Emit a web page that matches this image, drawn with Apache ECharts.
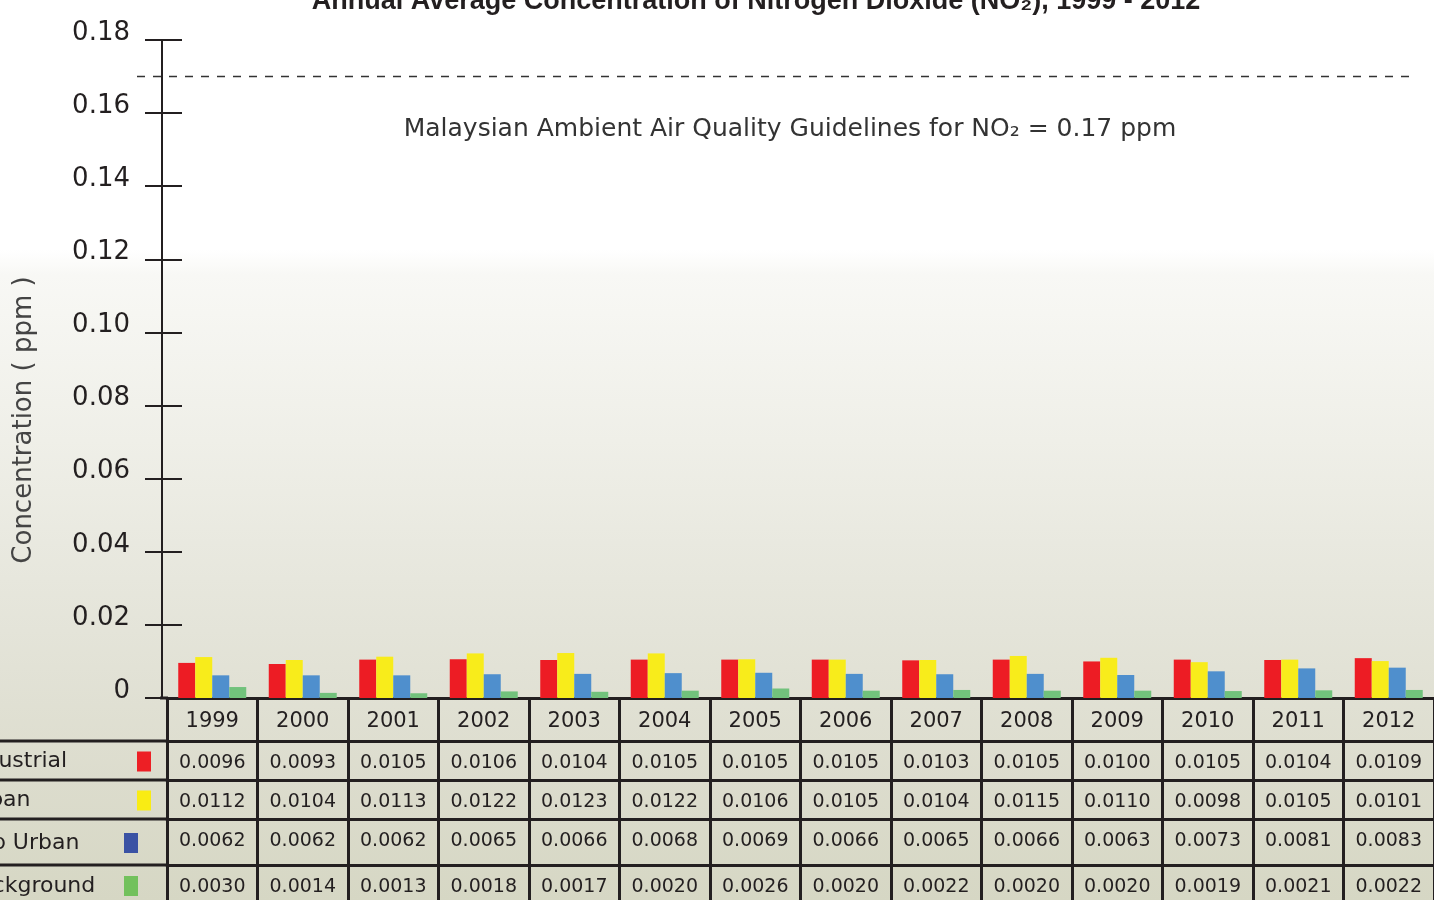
<!DOCTYPE html>
<html>
<head>
<meta charset="utf-8">
<title>NO2 1999 - 2012</title>
<script src="https://cdn.jsdelivr.net/npm/echarts@6/dist/echarts.min.js"></script>
<style>
  html, body { margin: 0; padding: 0; overflow: hidden; }
  body {
    background: linear-gradient(to bottom, #ffffff 0px, #ffffff 250px, #f8f8f5 275px,
      #efefe8 440px, #e4e4d9 630px, #dcdccd 780px, #d6d7c4 900px);
  }
  #chart { width: 1434px; height: 900px; }
</style>
</head>
<body>
<div id="chart"></div>
<script>
// data
const years = ['1999', '2000', '2001', '2002', '2003', '2004', '2005', '2006', '2007', '2008', '2009', '2010', '2011', '2012'];
const industrial = [0.0096, 0.0093, 0.0105, 0.0106, 0.0104, 0.0105, 0.0105, 0.0105, 0.0103, 0.0105, 0.0100, 0.0105, 0.0104, 0.0109];
const urban = [0.0112, 0.0104, 0.0113, 0.0122, 0.0123, 0.0122, 0.0106, 0.0105, 0.0104, 0.0115, 0.0110, 0.0098, 0.0105, 0.0101];
const subUrban = [0.0062, 0.0062, 0.0062, 0.0065, 0.0066, 0.0068, 0.0069, 0.0066, 0.0065, 0.0066, 0.0063, 0.0073, 0.0081, 0.0083];
const background = [0.0030, 0.0014, 0.0013, 0.0018, 0.0017, 0.0020, 0.0026, 0.0020, 0.0022, 0.0020, 0.0020, 0.0019, 0.0021, 0.0022];
const seriesNames = ['Industrial', 'Urban', 'Sub Urban', 'Background'];
const yMin = 0, yMax = 0.18, yStep = 0.02;
const guideline = 0.17;

const seriesData = [industrial, urban, subUrban, background];
const barColors = ['#ed1c24', '#f8ec1b', '#4f8fcd', '#72c27c'];
const keyColors = ['#ed1f25', '#f9ec14', '#3a52a4', '#72c15c'];
const keyX = [137, 137, 124, 124];

const font = 'DejaVu Sans';
const ink = '#231f20';
const gridBottomY = 698;
// table rows: offset of each row's top line below the x axis, row height
const rowOffsets = [0, 43, 82, 121, 167];
const rowHeights = [43, 39, 39, 46, 40];

const chart = echarts.init(document.getElementById('chart'));

function tableAxis(i) {
  return {
    type: 'category',
    data: years,
    position: 'bottom',
    offset: rowOffsets[i],
    axisLine: { show: true, onZero: false, lineStyle: { color: ink, width: 3 } },
    axisTick: { show: true, alignWithLabel: false, interval: 0, length: rowHeights[i], lineStyle: { color: ink, width: 3 } },
    axisLabel: {
      interval: 0,
      margin: 13,
      fontFamily: font,
      fontSize: i === 0 ? 21 : 19,
      color: ink,
      formatter: (v, idx) => i === 0 ? v : seriesData[i - 1][idx].toFixed(4)
    },
    splitLine: { show: false }
  };
}

const yBase = {
  type: 'value',
  min: yMin,
  max: yMax,
  interval: yStep,
  position: 'left',
  offset: 5,
  splitLine: { show: false }
};

chart.setOption({
  animation: false,
  backgroundColor: 'transparent',
  title: {
    text: 'Annual Average Concentration of Nitrogen Dioxide (NO₂), 1999 - 2012',
    left: 751,
    top: -17,
    textAlign: 'center',
    textStyle: { fontFamily: 'Liberation Sans', fontWeight: 'bold', fontSize: 27, color: ink }
  },
  grid: { left: 167, right: 0, top: 40, bottom: 900 - gridBottomY },
  xAxis: rowOffsets.map((_, i) => tableAxis(i)),
  yAxis: [
    Object.assign({}, yBase, {
      axisLine: { show: true, lineStyle: { color: ink, width: 2 } },
      axisTick: { show: true, length: 17, lineStyle: { color: ink, width: 2 } },
      axisLabel: {
        margin: 32,
        fontFamily: font,
        fontSize: 26,
        color: ink,
        verticalAlign: 'bottom',
        lineHeight: 14,
        formatter: (v) => v === 0 ? '0' : v.toFixed(2)
      }
    }),
    // second copy only for the tick half that sits inside the plot
    Object.assign({}, yBase, {
      axisLine: { show: false },
      axisTick: { show: true, inside: true, length: 20, lineStyle: { color: ink, width: 2 } },
      axisLabel: { show: false }
    })
  ],
  series: seriesNames.map((name, i) => ({
    name: name,
    type: 'bar',
    data: seriesData[i],
    barWidth: 17,
    barGap: '0%',
    itemStyle: { color: barColors[i] }
  }))
});

// guideline, notes and the row headers of the table
const yGuide = chart.convertToPixel({ yAxisIndex: 0 }, guideline);
const graphics = [
  {
    type: 'line',
    shape: { x1: 137, y1: yGuide, x2: 1417, y2: yGuide },
    style: { stroke: '#333', lineWidth: 1.5, lineDash: [8, 8] }
  },
  {
    type: 'text',
    x: 790, y: 129,
    style: {
      text: 'Malaysian Ambient Air Quality Guidelines for NO₂ = ' + guideline + ' ppm',
      font: '25px "DejaVu Sans"', fill: '#333', textAlign: 'center', textVerticalAlign: 'middle'
    }
  },
  {
    type: 'text',
    x: 24, y: 420, rotation: Math.PI / 2,
    style: {
      text: 'Concentration ( ppm )',
      font: '26px "DejaVu Sans"', fill: '#444', textAlign: 'center', textVerticalAlign: 'middle'
    }
  },
  {
    type: 'line',
    shape: { x1: 160, y1: gridBottomY, x2: 168, y2: gridBottomY },
    style: { stroke: ink, lineWidth: 3 }
  }
];
seriesNames.forEach((name, i) => {
  const top = gridBottomY + rowOffsets[i + 1];
  const mid = top + rowHeights[i + 1] / 2;
  graphics.push({
    type: 'line',
    shape: { x1: 0, y1: top, x2: 168, y2: top },
    style: { stroke: ink, lineWidth: 3 }
  });
  graphics.push({
    type: 'text',
    x: -36, y: mid + 1,
    style: { text: name, font: '22px "DejaVu Sans"', fill: ink, textAlign: 'left', textVerticalAlign: 'middle' }
  });
  graphics.push({
    type: 'rect',
    shape: { x: keyX[i], y: mid - 9, width: 14, height: 20 },
    style: { fill: keyColors[i] }
  });
});
chart.setOption({ graphic: graphics });
</script>
</body>
</html>
